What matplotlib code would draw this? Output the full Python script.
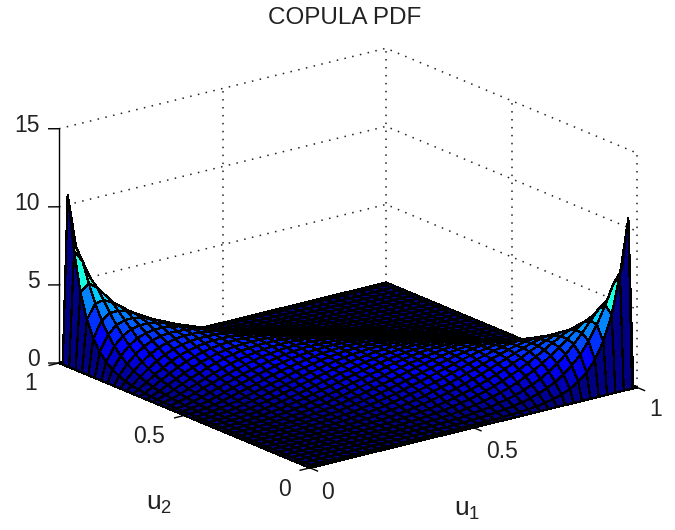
import numpy as np
import matplotlib
matplotlib.use("Agg")
import matplotlib.pyplot as plt
from mpl_toolkits.mplot3d import proj3d

plt.rcParams['font.family'] = ['Liberation Sans', 'DejaVu Sans']
plt.rcParams['mathtext.default'] = 'regular'

TITLE = "COPULA PDF"
XLABEL = "$u_1$"
YLABEL = "$u_2$"
Z_TICKS = [0, 5, 10, 15]
UV_TICKS = [0, 0.5, 1]
UV_TICK_LABELS = ["0", "0.5", "1"]
Z_TICK_LABELS = ["0", "5", "10", "15"]
COLOR_TOP = 13.0

# Estimated surface heights; each row runs from the ridge outward, the rest of
# the surface repeats through the picture's two mirror symmetries.
row01 = [10.8,7.35,4.89,3.32,2.28,1.59,1.12,.80,.57,.40,.29,.21,.15,.11,.08,.05,.04,.03,.02,.02]
row02 = [6.59,5.34,4.22,3.30,2.56,2.0,1.55,1.2,.93,.72,.55,.42,.32,.25,.18,.14,.10,.08,.06,.04,.03,.02,.02]
row03 = [4.93,4.3,3.65,3.05,2.53,2.08,1.70,1.38,1.12,.90,.72,.58,.46,.36,.28,.22,.17,.13,.10,.07,.05,.04,.03,.02,.02]
row04 = [4.04,3.66,3.23,2.82,2.42,2.06,1.75,1.47,1.22,1.02,.84,.69,.56,.45,.36,.28,.22,.17,.13,.10,.08,.06,.04,.03,.02,.02]
row05 = [3.49,3.23,2.94,2.62,2.31,2.02,1.75,1.51,1.29,1.09,.91,.76,.63,.52,.42,.34,.27,.21,.17,.13,.10,.07,.05,.04,.03,.02,.02]
row06 = [3.11,2.93,2.70,2.46,2.21,1.97,1.73,1.52,1.31,1.13,.96,.82,.69,.57,.47,.38,.31,.25,.19,.15,.11,.09,.06,.05,.03,.02,.02,.01]
row07 = [2.84,2.70,2.52,2.32,2.12,1.91,1.71,1.51,1.33,1.16,1.0,.86,.73,.61,.51,.42,.34,.27,.21,.17,.13,.10,.07,.05,.03,.02,.02]
row08 = [2.63,2.52,2.38,2.22,2.04,1.86,1.68,1.51,1.33,1.17,1.02,.88,.75,.64,.53,.44,.36,.29,.23,.18,.14,.10,.07,.05,.03]
row09 = [2.47,2.38,2.26,2.12,1.98,1.82,1.66,1.49,1.34,1.18,1.04,.90,.78,.66,.56,.46,.38,.31,.24,.19,.14,.11,.08]
row10 = [2.34,2.27,2.17,2.05,1.92,1.78,1.63,1.48,1.34,1.19,1.05,.92,.79,.68,.57,.48,.39,.31,.25,.19,.15]
row11 = [2.24,2.18,2.10,1.99,1.88,1.74,1.61,1.47,1.33,1.19,1.06,.93,.80,.69,.58,.49,.40,.32,.25]
row12 = [2.15,2.11,2.03,1.94,1.83,1.72,1.59,1.46,1.33,1.19,1.06,.94,.81,.70,.59,.49,.40]
row13 = [2.09,2.05,1.98,1.90,1.80,1.70,1.58,1.45,1.33,1.20,1.07,.94,.82,.70,.59]
row14 = [2.03,2.0,1.94,1.87,1.78,1.68,1.56,1.44,1.32,1.20,1.07,.94,.82]
row15 = [1.99,1.96,1.91,1.84,1.76,1.66,1.55,1.44,1.32,1.19,1.07]
row16 = [1.96,1.93,1.89,1.83,1.74,1.65,1.55,1.44,1.32]
row17 = [1.93,1.91,1.87,1.81,1.74,1.65,1.55]
row18 = [1.91,1.90,1.86,1.81,1.74]
row19 = [1.90,1.89,1.86]
row20 = [1.90]
pdf_rows = [row01,row02,row03,row04,row05,row06,row07,row08,row09,row10,
            row11,row12,row13,row14,row15,row16,row17,row18,row19,row20]

N = 41
Z = np.zeros((N, N))
for i, row in enumerate(pdf_rows, start=1):
    for m, val in enumerate(row):
        j = N - 1 - i - m
        Z[i, j] = Z[j, i] = val
        Z[N-1-j, N-1-i] = Z[N-1-i, N-1-j] = val
grid = np.concatenate(([0.0], np.linspace(0.015, 0.985, N-2), [1.0]))
U1, U2 = np.meshgrid(grid, grid, indexing='ij')

W, H = 675, 530
L = 700.0
fig = plt.figure(figsize=(W/100, H/100), dpi=100)
ax = fig.add_axes([0, 0, L/W, L/H], projection='3d', proj_type='ortho')
ax.set_axis_off()
ax.view_init(elev=18.7, azim=-127.5)
ax.set_box_aspect((1, 1, 0.6))
ax.set_xlim(0, 1, view_margin=0)
ax.set_ylim(0, 1, view_margin=0)
ax.set_zlim(0, 15, view_margin=0)
ax.computed_zorder = False


def to_px(x, y, z):
    xs, ys, _ = proj3d.proj_transform(x, y, z, ax.get_proj())
    return ax.transData.transform((xs, ys))


# fit the box to the reference's corner positions
fig.canvas.draw()
a = to_px(0, 1, 0)
b = to_px(1, 0, 0)
L = L * 578.0 / (b[0] - a[0])
ax.set_position([0, 0, L/W, L/H])
fig.canvas.draw()
a = to_px(0, 1, 0)
pos_l = (59 - a[0]) / W
pos_b = ((H - 363) - a[1]) / H
ax.set_position([pos_l, pos_b, L/W, L/H])
fig.canvas.draw()

# back-wall and floor grid
grid_kw = dict(color='#222222', lw=1.1, linestyle=(0, (1, 4.2)), zorder=1, clip_on=False)
for z in Z_TICKS[1:]:
    ax.plot([0, 1, 1], [1, 1, 0], [z, z, z], **grid_kw)
for t in UV_TICKS[1:]:
    ax.plot([t, t], [1, 1], [0, 15], **grid_kw)
for t in UV_TICKS[:2]:
    ax.plot([1, 1], [t, t], [0, 15], **grid_kw)

# surface: flat faces coloured from the lower-index corner
colors = plt.get_cmap('jet')(Z[:-1, :-1] / COLOR_TOP)
ax.plot_surface(U1, U2, Z, rstride=1, cstride=1, facecolors=colors, shade=False,
                edgecolor='black', linewidth=0.9, antialiased=False, zorder=2)

# axis line and ticks
line_kw = dict(color='black', lw=1.0, zorder=3, clip_on=False)
ax.plot([0, 0], [1, 1], [0, 15], **line_kw)
for z in Z_TICKS:
    ax.plot([0, -0.02], [1, 1.015], [z, z], **line_kw)
for t in UV_TICKS:
    ax.plot([t, t], [0, -0.03], [0, 0], **line_kw)
    ax.plot([0, -0.03], [t, t], [0, 0], **line_kw)

FS = 16.5


def label(x, y, z, s, dx, dy, ha='center', fs=FS):
    ax.annotate(s, xy=to_px(x, y, z), xycoords='figure pixels',
                xytext=(dx, dy), textcoords='offset pixels', ha=ha, va='center',
                fontsize=fs, color='#222222', annotation_clip=False, zorder=5)


for z, s in zip(Z_TICKS, Z_TICK_LABELS):
    label(0, 1, z, s, -19, 3, ha='right')
for t, s, off in zip(UV_TICKS, UV_TICK_LABELS, [(18, -25), (28.5, -24), (19, -22)]):
    label(t, 0, 0, s, *off)
for t, s, off in zip(UV_TICKS, UV_TICK_LABELS, [(-25, -22), (-35, -21.5), (-28, -20)]):
    label(0, t, 0, s, *off)
label(0.5, 0, 0, XLABEL, -6, -82, fs=19)
label(0, 0.5, 0, YLABEL, -25, -89, fs=19)

fig.suptitle(TITLE, x=345/W, y=1-18/H, va='center', ha='center', fontsize=17.5, color='#222222')
fig.savefig('out.png', dpi=100, facecolor='white')
